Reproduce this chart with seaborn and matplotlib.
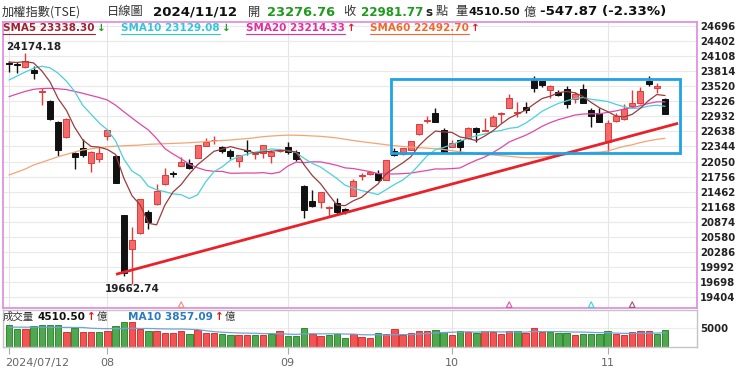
import numpy as np
import pandas as pd
import matplotlib
matplotlib.use('Agg')
import matplotlib.pyplot as plt
from matplotlib.lines import Line2D
from matplotlib.patches import Rectangle
from matplotlib.transforms import ScaledTranslation
import seaborn as sns

# TAIEX daily candles, 2024/07/12 .. 2024/11/12 (81 sessions)
opens = [23960, 23945, 23890, 23840, 23400, 23240, 22830, 22520, 22210, 22310,
         22030, 22100, 22555, 22160, 21000, 20340, 20650, 21060, 21215, 21605,
         21830, 21965, 22015, 22125, 22355, 22465, 22330, 22260, 22065, 22285,
         22200, 22225, 22160, 22250, 22330, 22240, 21580, 21280, 21265, 21150,
         21250, 21120, 21380, 21775, 21800, 21820, 21690, 22260, 22190, 22275,
         22580, 22845, 23005, 22665, 22340, 22470, 22505, 22700, 22650, 22745,
         22975, 23100, 22995, 23120, 23640, 23620, 23445, 23400, 23460, 23265,
         23460, 23055, 22990, 22440, 22845, 22880, 23135, 23190, 23620, 23495,
         23276.76]
highs = [24020, 24000, 24174.18, 23915, 23480, 23250, 22840, 22900, 22245, 22485,
         22250, 22330, 22680, 22170, 21010, 20780, 21320, 21105, 21610, 21920,
         21860, 22145, 22100, 22380, 22505, 22555, 22350, 22300, 22175, 22470,
         22230, 22380, 22275, 22290, 22440, 22270, 21590, 21495, 21460, 21190,
         21340, 21140, 21700, 21820, 21870, 21880, 22080, 22310, 22320, 22460,
         22790, 22945, 23100, 22700, 22470, 22490, 22720, 22730, 22895, 22950,
         23025, 23360, 23218, 23218, 23725, 23625, 23550, 23440, 23520, 23400,
         23557, 23090, 23090, 22860, 23000, 23180, 23447, 23505, 23720, 23578,
         23290]
lows = [23790, 23780, 23880, 23660, 23150, 22860, 22150, 22510, 21900, 22135,
        21850, 22050, 22470, 21630, 19820, 19662.74, 20640, 20730, 21200, 21600,
        21740, 21960, 21900, 22120, 22345, 22393, 22215, 22105, 21950, 22180,
        22095, 22125, 22030, 22230, 22200, 22070, 20940, 21170, 21135, 20975,
        21020, 21030, 21375, 21680, 21790, 21670, 21680, 22150, 22175, 22270,
        22570, 22800, 22820, 22215, 22330, 22215, 22495, 22438, 22640, 22735,
        22800, 23090, 22925, 22990, 23400, 23505, 23285, 23320, 23100, 23190,
        23185, 22730, 22820, 22245, 22830, 22870, 23120, 23180, 23525, 23382,
        22970]
closes = [23950, 23925, 24020, 23785, 23420, 22880, 22280, 22890, 22130, 22180,
          22245, 22210, 22665, 21640, 19880, 20520, 21315, 20875, 21480, 21790,
          21815, 22045, 21920, 22375, 22440, 22470, 22255, 22165, 22170, 22265,
          22215, 22375, 22230, 22250, 22240, 22090, 21105, 21190, 21455, 21170,
          21070, 21065, 21665, 21790, 21855, 21690, 22075, 22180, 22310, 22450,
          22775, 22860, 22830, 22225, 22405, 22330, 22710, 22620, 22665, 22915,
          22995, 23295, 23010, 23055, 23490, 23550, 23520, 23350, 23180, 23360,
          23187, 22940, 22830, 22810, 22940, 23080, 23200, 23425, 23555, 23529.64,
          22981.77]
# turnover, 億
volumes = [5995, 4895, 4803, 5720, 5995, 5810, 5810, 4162, 5078, 4162,
           4070, 4070, 4437, 5537, 6729, 6637, 4803, 4345, 4345, 3703,
           3703, 4345, 3520, 4620, 3887, 3887, 3428, 3245, 3337, 3337,
           3337, 3337, 3520, 4345, 2970, 2970, 5078, 3520, 2970, 3337,
           3520, 2512, 3428, 2787, 2512, 3703, 3520, 4895, 3153, 3703,
           4437, 4437, 4528, 4162, 3153, 4345, 4070, 3887, 4345, 3978,
           3520, 4345, 4345, 3887, 5078, 3978, 4070, 3887, 3887, 3245,
           3428, 3540, 3540, 4180, 3540, 3360, 4000, 4180, 4180, 3540,
           4510.50]

# moving-average values before the rolling window fills
sma5_head = [23990, 23985, 24000, 23975]
sma10_head = [23642, 23720, 23800, 23870, 23910, 23880, 23773, 23620, 23420]
sma20_head = [23316, 23370, 23420, 23460, 23475, 23480, 23470, 23455, 23420, 23382,
              23340, 23300, 23251, 23150, 23023, 22900, 22780, 22666, 22500]
sma60_head = [21788, 21845, 21905, 21983, 22035, 22090, 22145, 22190, 22235, 22275,
              22298, 22320, 22340, 22350, 22358, 22365, 22372, 22386, 22392, 22398,
              22404, 22410, 22418, 22428, 22438, 22450, 22460, 22471, 22485, 22497,
              22515, 22536, 22548, 22558, 22565, 22563, 22558, 22550, 22542, 22528,
              22510, 22485, 22460, 22438, 22418, 22398, 22378, 22360, 22345, 22332,
              22320, 22310, 22300, 22285, 22262, 22240, 22220, 22200, 22180]
vol_ma10_head = [5350, 5340, 5330, 5320, 5310, 5300, 5290, 5270, 5250]

month_idx = [0, 12, 34, 54, 73]
month_labels = ['2024/07/12', '08', '09', '10', '11']
y_ticks = list(range(19404, 24697, 294))

trend_idx = [13.05, 81.6]
trend_price = [19849, 22797]
box_idx = [46.6, 81.8]
box_price = [22217, 23661]

signal_idx = [21, 61, 71, 76]
signal_colors = ['#f08a80', '#e050b0', '#40d0d8', '#a05070']

W, H = 740, 367


def fx(px):
    return px / W


def fy(py):
    return 1 - py / H


def moving_avg(s, n, head):
    ma = s.rolling(n).mean()
    ma.iloc[:n - 1] = head
    return ma


sns.set_style('white')
plt.rcParams['font.family'] = ['DejaVu Sans', 'Noto Sans CJK TC']

df = pd.DataFrame({'open': opens, 'high': highs, 'low': lows,
                   'close': closes, 'volume': volumes})
df['idx'] = np.arange(len(df))
df['sma5'] = moving_avg(df['close'], 5, sma5_head)
df['sma10'] = moving_avg(df['close'], 10, sma10_head)
df['sma20'] = moving_avg(df['close'], 20, sma20_head)
df['sma60'] = moving_avg(df['close'], 60, sma60_head)
df['vol_ma10'] = moving_avg(df['volume'], 10, vol_ma10_head)

RED_FILL, RED_EDGE, BLACK = '#f46a6a', '#e23a3a', '#111111'
up = df['close'] >= df['open']
vol_up = df['close'].diff() >= 0

fig = plt.figure(figsize=(7.4, 3.67), dpi=100)
ax = fig.add_axes([fx(3), fy(308), fx(697) - fx(3), fy(22) - fy(308)])
axv = fig.add_axes([fx(3), fy(347), fx(697) - fx(3), fy(310) - fy(347)])

# ---- price panel ----
ax.grid(axis='y', color='#e9e9e9', lw=0.8, zorder=0)
for m in month_idx:
    ax.axvline(m, color='#e4e4e4', lw=0.8, zorder=0)

body_bot = np.minimum(df['open'], df['close'])
body_h = np.maximum((df['close'] - df['open']).abs(), 14)
ax.vlines(df['idx'], df['low'], df['high'],
          colors=[RED_EDGE if u else BLACK for u in up], lw=1.0, zorder=2)
ax.bar(df['idx'], body_h, bottom=body_bot, width=0.74,
       color=[RED_FILL if u else BLACK for u in up],
       edgecolor=[RED_EDGE if u else BLACK for u in up], linewidth=0.7, zorder=3)

ma_styles = [('sma60', '#f4a474'), ('sma20', '#e048a8'),
             ('sma10', '#4cd0d8'), ('sma5', '#9a3c3c')]
for col, color in ma_styles:
    sns.lineplot(data=df, x='idx', y=col, color=color, lw=0.9, ax=ax,
                 zorder=4, legend=False)

ax.plot(trend_idx, trend_price, color='#e8222a', lw=2.0,
        solid_capstyle='butt', zorder=5)
ax.add_patch(Rectangle((box_idx[0], box_price[0]), box_idx[1] - box_idx[0],
                       box_price[1] - box_price[0], fill=False,
                       ec='#1ea3e6', lw=2.0, zorder=5))
ax.scatter(signal_idx, [0.012] * len(signal_idx), transform=ax.get_xaxis_transform(),
           marker='^', s=16, facecolors='none', edgecolors=signal_colors,
           linewidths=0.8, zorder=5, clip_on=False)

hi_i = int(df['high'].idxmax())
lo_i = int(df['low'].idxmin())
ax.annotate(f"{df['high'].max():.2f}", xy=(hi_i, df['high'].max()),
            xytext=(8, 6), textcoords='offset pixels', ha='center', va='center',
            fontsize=7.5, fontweight='bold', color='#222')
ax.annotate(f"{df['low'].min():.2f}", xy=(lo_i, df['low'].min()),
            xytext=(0, -5), textcoords='offset pixels', ha='center', va='center',
            fontsize=7.5, fontweight='bold', color='#222')

ax.set_xlim(-0.73, 83.9)
ax.set_ylim(19191, 24774)
ax.set_xlabel('')
ax.set_ylabel('')
ax.yaxis.tick_right()
ax.set_yticks(y_ticks)
ax.tick_params(axis='y', length=0, pad=2, labelsize=7.3, labelcolor='#222')
for t in ax.get_yticklabels():
    t.set_fontweight('bold')
ax.tick_params(axis='x', bottom=False, labelbottom=False)
for sp in ax.spines.values():
    sp.set_color('#e092e0')
    sp.set_linewidth(1.3)

# ---- volume panel ----
axv.axhline(5000, color='#ececec', lw=0.8, zorder=0)
for m in month_idx:
    axv.axvline(m, color='#e4e4e4', lw=0.8, zorder=0)
axv.bar(df['idx'], df['volume'], width=0.76,
        color=['#f25454' if u else '#4fa84f' for u in vol_up],
        edgecolor=['#d83434' if u else '#2f8a2f' for u in vol_up],
        linewidth=0.7, zorder=2)
sns.lineplot(data=df, x='idx', y='vol_ma10', color='#6aa6d8', lw=0.9,
             ax=axv, zorder=3, legend=False)
axv.set_xlim(-0.73, 83.9)
axv.set_ylim(0, 9950)
axv.set_xlabel('')
axv.set_ylabel('')
axv.yaxis.tick_right()
axv.set_yticks([5000])
axv.tick_params(axis='y', length=0, pad=2, labelsize=7.3, labelcolor='#222')
for t in axv.get_yticklabels():
    t.set_fontweight('bold')
axv.set_xticks(month_idx)
axv.set_xticklabels(month_labels)
axv.tick_params(axis='x', bottom=True, length=5, width=0.8, color='#aaaaaa',
                labelsize=8, labelcolor='#666666', pad=3)
first = axv.get_xticklabels()[0]
first.set_horizontalalignment('left')
first.set_transform(first.get_transform() + ScaledTranslation(-4 / 100, 0, fig.dpi_scale_trans))
for sp in axv.spines.values():
    sp.set_color('#c4c4c4')
    sp.set_linewidth(1.0)

# ---- header texts ----
CJK = ['Noto Sans CJK TC', 'DejaVu Sans']
GREEN = '#1f9a1f'


def put(x, y, s, **kw):
    kw.setdefault('fontsize', 9)
    return fig.text(fx(x), fy(y), s, ha='left', va='center', **kw)


put(2, 12, '加權指數(TSE)', family=CJK, color='#333', fontsize=8.8)
put(107, 12, '日線圖', family=CJK, color='#333', fontsize=8.8)
put(153, 12, '2024/11/12', fontweight='bold', color='#111', fontsize=9.6)
put(248, 12, '開', family=CJK, color='#333', fontsize=8.8)
put(267, 12, '23276.76', fontweight='bold', color=GREEN, fontsize=9.4)
put(343, 12, '收', family=CJK, color='#333', fontsize=8.8)
put(361, 12, '22981.77', fontweight='bold', color=GREEN, fontsize=8.6)
put(425, 12, 's', fontweight='bold', color='#222', fontsize=8.6)
put(436, 12, '點', family=CJK, color='#333', fontsize=8.8)
put(455, 12, '量', family=CJK, color='#333', fontsize=8.8)
put(468, 12, '4510.50', fontweight='bold', color='#111', fontsize=8.2)
put(524, 12, '億', family=CJK, color='#333', fontsize=8.8)
put(540, 12, '-547.87 (-2.33%)', fontweight='bold', color='#111', fontsize=9.6)

fig.canvas.draw()
renderer = fig.canvas.get_renderer()


def tagged(x, y, label, color, arrow, arrow_color, size=7.5, underline=True):
    t = put(x, y, label, fontweight='bold', color=color, fontsize=size)
    bb = t.get_window_extent(renderer)
    if underline:
        fig.add_artist(Line2D([bb.x0 / W, bb.x1 / W], [(bb.y0 - 0.5) / H] * 2,
                              color=color, lw=0.8))
    a = put(bb.x1 + 2, y, arrow, fontweight='bold', color=arrow_color, fontsize=size)
    return a.get_window_extent(renderer)


sma_labels = [(3, 'SMA5 23338.30', '#a0222e', '↓', GREEN),
              (121, 'SMA10 23129.08', '#33c6d6', '↓', GREEN),
              (246, 'SMA20 23214.33', '#e0309a', '↑', '#e01818'),
              (370, 'SMA60 22492.70', '#f06a2a', '↑', '#e01818')]
for x, label, color, arrow, acol in sma_labels:
    tagged(x, 28, label, color, arrow, acol)

put(3, 317, '成交量', family=CJK, color='#333', fontsize=7.5)
bb = tagged(37, 317, '4510.50', '#111', '↑', '#e01818', size=7.6, underline=False)
put(bb.x1 + 1, 317, '億', family=CJK, color='#333', fontsize=7.5)
bb = tagged(128, 317, 'MA10 3857.09', '#2b7bbd', '↑', '#e01818', size=7.6, underline=False)
put(bb.x1 + 1, 317, '億', family=CJK, color='#333', fontsize=7.5)

fig.savefig('out.png', dpi=100)
